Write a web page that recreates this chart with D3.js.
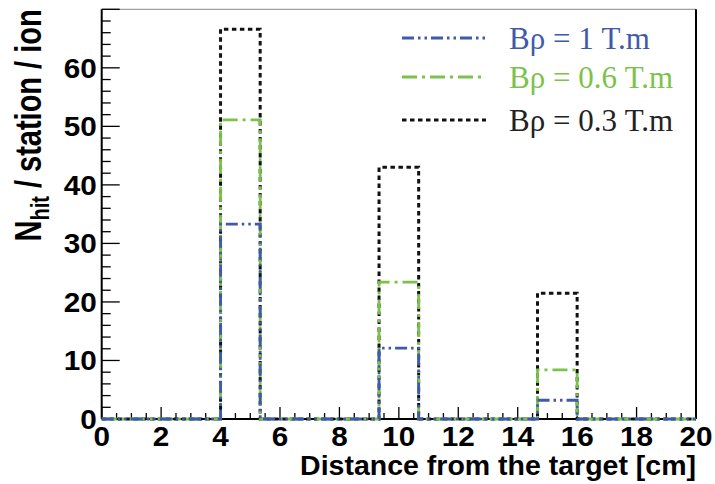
<!DOCTYPE html>
<html>
<head>
<meta charset="utf-8">
<script src="https://cdn.jsdelivr.net/npm/d3@7"></script>
<style>
  html, body { margin: 0; padding: 0; background: #fff; }
  svg { display: block; }
</style>
</head>
<body>
<svg id="chart" width="715" height="484"></svg>
<script>
// ---- data ----
const binEdges = [0, 1.3333, 2.6667, 4, 5.3333, 6.6667, 8, 9.3333, 10.6667, 12, 13.3333, 14.6667, 16, 17.3333, 18.6667, 20];
const bRho1   = [0, 0, 0, 33.3, 0, 0, 0, 12.1, 0, 0, 0, 3.2, 0, 0, 0];
const bRho06  = [0, 0, 0, 51.1, 0, 0, 0, 23.4, 0, 0, 0, 8.4, 0, 0, 0];
const bRho03  = [0, 0, 0, 66.6, 0, 0, 0, 43.0, 0, 0, 0, 21.5, 0, 0, 0];
const seriesNames = ["B\u03c1 = 1 T.m", "B\u03c1 = 0.6 T.m", "B\u03c1 = 0.3 T.m"];
const xTickLabels = [0, 2, 4, 6, 8, 10, 12, 14, 16, 18, 20];
const yTickLabels = [0, 10, 20, 30, 40, 50, 60];

// ---- layout ----
const W = 715, H = 484;
const m = { left: 101.7, top: 9.3, right: 19, bottom: 65 };
const svg = d3.select("#chart");
const x = d3.scaleLinear().domain([0, 20]).range([m.left, W - m.right]);
const y = d3.scaleLinear().domain([0, 70]).range([H - m.bottom, m.top]);

const styles = [
  { data: bRho03, color: "#111111", dash: "4.5,3.5", width: 3 },
  { data: bRho06, color: "#7cc24a", dash: "15,5,3,5", width: 2.8 },
  { data: bRho1,  color: "#3f5aaa", dash: "12,4,2.5,4,2.5,4", width: 2.8 },
];

// frame (top and right)
svg.append("line").attr("x1", x(0)).attr("x2", x(20)).attr("y1", y(70)).attr("y2", y(70))
  .attr("stroke", "#888").attr("stroke-width", 1);
svg.append("line").attr("x1", x(20)).attr("x2", x(20)).attr("y1", y(70)).attr("y2", y(0))
  .attr("stroke", "#000").attr("stroke-width", 2);

// axes
const axisFont = "'Liberation Sans', Arial, sans-serif";
const tickFs = 27, tickSx = 1.1;
const yMinor = d3.range(0, 70.01, 2);
svg.append("g").selectAll("line").data(yMinor).join("line")
  .attr("x1", x(0)).attr("x2", d => x(0) + (d % 10 === 0 ? 18 : 9))
  .attr("y1", d => y(d)).attr("y2", d => y(d))
  .attr("stroke", "#000").attr("stroke-width", 1.3);
svg.append("line").attr("x1", x(0)).attr("x2", x(0)).attr("y1", y(0)).attr("y2", y(70))
  .attr("stroke", "#000").attr("stroke-width", 2);
svg.append("g").selectAll("text").data(yTickLabels).join("text")
  .attr("transform", d => `translate(${x(0) - 5},${y(d)}) scale(${tickSx},1)`)
  .attr("dy", "0.36em")
  .attr("text-anchor", "end")
  .attr("font-family", axisFont).attr("font-weight", "bold").attr("font-size", tickFs)
  .text(d => d);

const xMinor = d3.range(0, 20.01, 0.5);
svg.append("g").selectAll("line").data(xMinor).join("line")
  .attr("x1", d => x(d)).attr("x2", d => x(d))
  .attr("y1", y(0)).attr("y2", d => y(0) - (Math.abs(d % 2) < 1e-6 ? 12 : 6))
  .attr("stroke", "#000").attr("stroke-width", 1.3);
svg.append("line").attr("x1", x(0)).attr("x2", x(20)).attr("y1", y(0)).attr("y2", y(0))
  .attr("stroke", "#000").attr("stroke-width", 2);
svg.append("g").selectAll("text").data(xTickLabels).join("text")
  .attr("transform", d => `translate(${x(d)},${y(0) + 27}) scale(${tickSx},1)`)
  .attr("text-anchor", "middle")
  .attr("font-family", axisFont).attr("font-weight", "bold").attr("font-size", tickFs)
  .text(d => d);

// axis titles
svg.append("text").attr("x", x(20)).attr("y", 475)
  .attr("text-anchor", "end")
  .attr("font-family", axisFont).attr("font-weight", "bold").attr("font-size", 28.5)
  .text("Distance from the target [cm]");
const yt = svg.append("text")
  .attr("transform", `translate(41,${m.top}) scale(1.25,1) rotate(-90)`)
  .attr("text-anchor", "end")
  .attr("font-family", axisFont).attr("font-weight", "bold").attr("font-size", 29);
yt.append("tspan").text("N");
yt.append("tspan").attr("font-size", 20).attr("dy", 6).text("hit");
yt.append("tspan").attr("dy", -6).text(" / station / ion");

// histograms
const line = d3.line().x(d => x(d[0])).y(d => y(d[1])).curve(d3.curveStepAfter);
styles.forEach(s => {
  const pts = s.data.map((v, i) => [binEdges[i], v]);
  pts.push([binEdges[binEdges.length - 1], s.data[s.data.length - 1]]);
  svg.append("path").attr("d", line(pts))
    .attr("fill", "none").attr("stroke", s.color)
    .attr("stroke-width", s.width).attr("stroke-dasharray", s.dash);
});

// legend
const legendItems = [
  { name: seriesNames[0], s: styles[2], yy: 38 },
  { name: seriesNames[1], s: styles[1], yy: 77 },
  { name: seriesNames[2], s: styles[0], yy: 120 },
];
const lg = svg.append("g");
legendItems.forEach(it => {
  lg.append("line").attr("x1", 402).attr("x2", 486).attr("y1", it.yy).attr("y2", it.yy)
    .attr("stroke", it.s.color).attr("stroke-width", it.s.width).attr("stroke-dasharray", it.s.dash);
  lg.append("text").attr("x", 509).attr("y", it.yy).attr("dy", "0.35em")
    .attr("font-family", "'Liberation Serif', 'Times New Roman', serif").attr("font-size", 31)
    .attr("fill", it.s.color === "#111111" ? "#222" : it.s.color)
    .text(it.name);
});
</script>
</body>
</html>
